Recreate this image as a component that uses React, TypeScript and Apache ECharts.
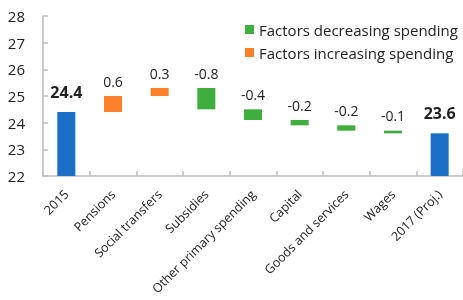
import React, { useEffect, useRef } from "react";
import * as echarts from "echarts";

const categories = [
  "2015",
  "Pensions",
  "Social transfers",
  "Subsidies",
  "Other primary spending",
  "Capital",
  "Goods and services",
  "Wages",
  "2017 (Proj.)",
];
// first and last are totals, others are changes
const startTotal = 24.4;
const changes = [0.6, 0.3, -0.8, -0.4, -0.2, -0.2, -0.1];
const endTotal = 23.6;
const yTicks = [22, 23, 24, 25, 26, 27, 28];

const BLUE = "#1a6ec6";
const GREEN = "#3fae3f";
const ORANGE = "#fd7f29";
const FONT = "Open Sans";

export default function App() {
  const ref = useRef<HTMLDivElement>(null);
  useEffect(() => {
    if (!ref.current) return;
    const chart = echarts.init(ref.current, null, { renderer: "svg" });

    const n = categories.length;
    const base: (number | string)[] = new Array(n).fill("-");
    const totals: (number | string)[] = new Array(n).fill("-");
    const inc: (number | string)[] = new Array(n).fill("-");
    const dec: (number | string)[] = new Array(n).fill("-");
    totals[0] = startTotal;
    totals[n - 1] = endTotal;
    let level = startTotal;
    changes.forEach((c, i) => {
      const idx = i + 1;
      const next = Math.round((level + c) * 10) / 10;
      base[idx] = Math.min(level, next);
      if (c >= 0) inc[idx] = c;
      else dec[idx] = -c;
      level = next;
    });

    const labelBase = {
      show: true,
      position: "top" as const,
      distance: 8,
      fontFamily: FONT,
      fontSize: 14,
      color: "#222",
    };

    chart.setOption({
      animation: false,
      textStyle: { fontFamily: FONT },
      grid: {
        left: 43,
        right: 0,
        top: 16,
        bottom: 124,
        containLabel: false,
        outerBoundsMode: "none",
      },
      legend: {
        orient: "vertical",
        left: 240,
        top: 17,
        itemWidth: 9,
        itemHeight: 9,
        itemGap: 8,
        icon: "rect",
        textStyle: { fontFamily: FONT, fontSize: 15, color: "#222" },
        data: ["Factors decreasing spending", "Factors increasing spending"],
      },
      xAxis: {
        type: "category",
        data: categories,
        axisLine: { lineStyle: { color: "#bdbdbd", width: 1.5 } },
        axisTick: { show: true, inside: true, length: 5, lineStyle: { color: "#bdbdbd", width: 1.5 } },
        axisLabel: {
          rotate: 45,
          interval: 0,
          fontFamily: FONT,
          fontSize: 12.5,
          color: "#222",
          margin: 16,
        },
      },
      yAxis: {
        type: "value",
        min: yTicks[0],
        max: yTicks[yTicks.length - 1],
        interval: 1,
        splitLine: { show: false },
        axisLine: { show: true, lineStyle: { color: "#bdbdbd", width: 1.5 } },
        axisTick: { show: true, inside: true, length: 5, lineStyle: { color: "#bdbdbd", width: 1.5 } },
        axisLabel: { fontFamily: FONT, fontSize: 15, color: "#222", margin: 18 },
      },
      series: [
        {
          name: "base",
          type: "bar",
          stack: "w",
          barWidth: 18,
          itemStyle: { color: "transparent" },
          emphasis: { disabled: true },
          data: base,
        },
        {
          name: "Total",
          type: "bar",
          stack: "w",
          barWidth: 18,
          itemStyle: { color: BLUE },
          label: {
            ...labelBase,
            fontSize: 16,
            distance: 12,
            fontWeight: "bold",
            formatter: (p: any) => p.value.toFixed(1),
          },
          data: totals,
        },
        {
          name: "Factors decreasing spending",
          type: "bar",
          stack: "w",
          barWidth: 18,
          itemStyle: { color: GREEN },
          label: { ...labelBase, formatter: (p: any) => "-" + p.value.toFixed(1) },
          data: dec,
        },
        {
          name: "Factors increasing spending",
          type: "bar",
          stack: "w",
          barWidth: 18,
          itemStyle: { color: ORANGE },
          label: { ...labelBase, formatter: (p: any) => p.value.toFixed(1) },
          data: inc,
        },
      ],
    });
    return () => chart.dispose();
  }, []);
  return (
    <div
      ref={ref}
      style={{ position: "fixed", left: 0, top: 0, width: 463, height: 300 }}
    />
  );
}
